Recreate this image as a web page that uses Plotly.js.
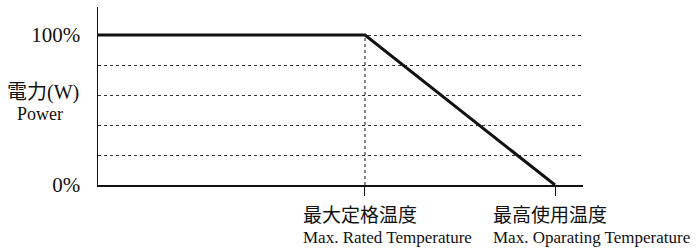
<!DOCTYPE html>
<html>
<head>
<meta charset="utf-8">
<script src="https://cdn.plot.ly/plotly-3.0.1.min.js"></script>
<style>html,body{margin:0;padding:0;background:#fff;}#chart{width:699px;height:248px;}</style>
</head>
<body>
<div id="chart"></div>
<script>
// Positions along the temperature axis (relative scale 0..100)
var tempAxisStart = 0;
var maxRatedTemp = 55.05;
var maxOperatingTemp = 94.23;
var curveX = [tempAxisStart, maxRatedTemp, maxOperatingTemp];
var curveY = [100, 100, 0];            // power %
var powerTicks = [0, 20, 40, 60, 80, 100];
var powerTickText = ['0%', '', '', '', '', '100%'];
var ratedLabelZh = '最大定格温度';
var ratedLabelEn = 'Max. Rated Temperature';
var operLabelZh = '最高使用温度';
var operLabelEn = 'Max. Oparating Temperature';
var yLabelZh = '電力(W)';
var yLabelEn = 'Power';

var serif = 'Liberation Serif, "Noto Sans CJK JP", serif';
var cjk = '"Noto Sans CJK JP", "Liberation Serif", serif';
var ink = '#111';

var traces = [
  { // vertical dashed guide at max rated temperature
    x: [maxRatedTemp, maxRatedTemp], y: [0, 100], mode: 'lines',
    line: {color: ink, width: 1, dash: '3px,3px'}, hoverinfo: 'skip'
  },
  {
    x: curveX, y: curveY, mode: 'lines',
    line: {color: ink, width: 3}, hoverinfo: 'skip'
  }
];

function labelAnn(xv, text, font, size, yshift) {
  return {
    x: xv, xref: 'x', y: 0, yref: 'y', xanchor: 'left', yanchor: 'middle',
    xshift: -64, yshift: yshift, showarrow: false, text: text,
    font: {family: font, size: size, color: ink}
  };
}

var layout = {
  width: 699, height: 248,
  margin: {l: 98, r: 116, t: 7, b: 63},
  paper_bgcolor: '#fff', plot_bgcolor: '#fff',
  showlegend: false,
  xaxis: {
    range: [0, 100], showgrid: false, zeroline: false,
    showline: true, linecolor: ink, linewidth: 1.5,
    tickvals: [maxRatedTemp, maxOperatingTemp], ticktext: ['', ''],
    ticks: 'outside', ticklen: 9, tickwidth: 1, tickcolor: ink,
    fixedrange: true
  },
  yaxis: {
    range: [0, 118.7], zeroline: false,
    showline: true, linecolor: ink, linewidth: 1.5,
    tickvals: powerTicks, ticktext: powerTickText, ticks: '',
    showgrid: true, gridcolor: '#333', gridwidth: 1, griddash: '3px,3px',
    ticklabelstandoff: 12,
    tickfont: {family: serif, size: 21, color: ink},
    fixedrange: true
  },
  annotations: [
    labelAnn(maxRatedTemp, ratedLabelZh, cjk, 19, -28),
    labelAnn(maxRatedTemp, ratedLabelEn, serif, 17, -52),
    labelAnn(maxOperatingTemp, operLabelZh, cjk, 19, -28),
    labelAnn(maxOperatingTemp, operLabelEn, serif, 17, -52),
    {x: 0, xref: 'paper', y: 62, yref: 'y', xanchor: 'center', yanchor: 'middle',
     xshift: -55, yshift: 0, showarrow: false, text: yLabelZh,
     font: {family: serif, size: 20, color: ink}},
    {x: 0, xref: 'paper', y: 62, yref: 'y', xanchor: 'center', yanchor: 'middle',
     xshift: -58, yshift: -22, showarrow: false, text: yLabelEn,
     font: {family: serif, size: 18, color: ink}}
  ]
};

Plotly.newPlot('chart', traces, layout, {displayModeBar: false, staticPlot: true});
</script>
</body>
</html>
